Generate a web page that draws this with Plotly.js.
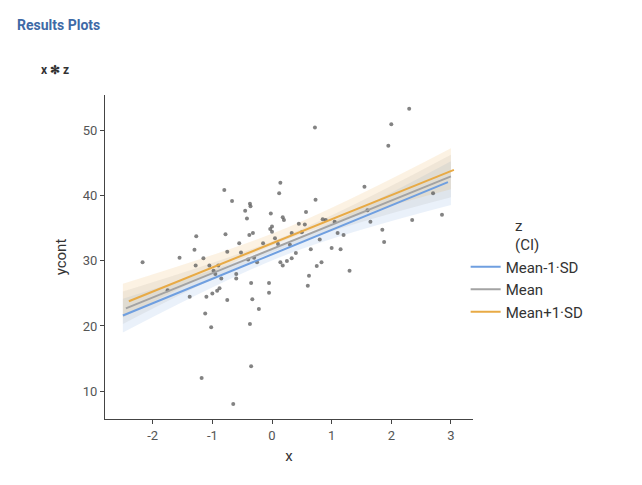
<!DOCTYPE html>
<html><head><script src="https://cdn.plot.ly/plotly-3.0.1.min.js"></script>
<style>body{margin:0}</style></head><body><div id="c" style="width:642px;height:485px"></div>
<script>
const ptsX=[-2.17,-1.55,-1.75,-1.38,-1.3,-1.27,-1.28,-1.18,-1.15,-1.12,-1.1,-1.05,-1.02,-1.0,-0.98,-0.95,-0.92,-0.9,-0.88,-0.85,-0.8,-0.78,-0.75,-0.75,-0.65,-0.67,-0.6,-0.6,-0.55,-0.52,-0.45,-0.42,-0.4,-0.38,-0.37,-0.36,-0.37,-0.35,-0.35,-0.32,-0.3,-0.33,-0.25,-0.22,-0.15,-0.05,-0.05,-0.03,-0.02,0.0,0.0,0.05,0.1,0.12,0.14,0.14,0.18,0.18,0.2,0.25,0.3,0.33,0.33,0.4,0.45,0.5,0.55,0.57,0.6,0.62,0.65,0.72,0.73,0.75,0.8,0.83,0.85,0.9,1.0,1.05,1.1,1.15,1.2,1.3,1.55,1.6,1.65,1.85,1.88,1.95,2.0,2.3,2.35,2.7,2.85];
const ptsY=[29.8,30.5,25.5,24.5,31.7,33.8,29.3,12,30.4,21.9,24.5,29.3,19.8,25.0,28.5,28.0,25.4,29.3,25.8,27.3,40.9,34.1,24.0,31.4,8.0,39.2,28.0,27.3,32.7,31.3,37.7,36.5,30.2,34.0,38.8,38.4,20.3,26.6,13.8,34.3,30.5,24.1,29.8,22.6,32.7,26.6,25.1,34.9,37.3,34.5,35.3,33.5,32.6,40.4,42.0,29.8,36.7,29.3,36.3,30.0,32.5,34.3,30.4,31.2,35.7,34.4,35.6,37.5,26.2,27.7,31.8,50.5,39.4,29.2,33.3,29.8,36.4,36.3,32.0,36.0,34.3,31.8,34.0,28.5,41.4,37.8,36.0,34.8,32.9,47.7,51.0,53.4,36.3,40.4,37.1];
const names=["Mean-1·SD","Mean","Mean+1·SD"];
const colors=["#6f9fe0","#a3a3a3","#e8aa45"];
const fills=["rgba(111,159,224,0.15)","rgba(163,163,163,0.15)","rgba(232,170,69,0.15)"];
const lineX=[[-2.5,2.95],[-2.45,3.0],[-2.4,3.05]];
const lineY=[[21.6,42.1],[22.7,43.0],[23.8,44.0]];
const bandX=[-2.5,0.25,3.0];
const bandLo=[[19.0,31.0,38.6],[20.3,32.2,39.8],[21.3,33.3,41.0]];
const bandHi=[[24.2,32.8,45.3],[25.3,33.9,46.3],[26.5,35.1,47.3]];
const traces=[];
for(let i=0;i<3;i++){
 traces.push({x:bandX,y:bandLo[i],mode:'lines',line:{width:0,shape:'spline'},showlegend:false,hoverinfo:'skip'});
 traces.push({x:bandX,y:bandHi[i],mode:'lines',fill:'tonexty',fillcolor:fills[i],line:{width:0,shape:'spline'},showlegend:false,hoverinfo:'skip'});
}
traces.push({x:ptsX,y:ptsY,mode:'markers',marker:{color:'rgba(90,90,90,0.75)',size:4},showlegend:false});
for(let i=0;i<3;i++) traces.push({x:lineX[i],y:lineY[i],mode:'lines',name:names[i],line:{color:colors[i],width:2}});
Plotly.newPlot('c',traces,{
 width:642,height:485,margin:{l:105,r:169,t:95,b:66},
 font:{family:'Roboto',color:'#333'},
 plot_bgcolor:'white',paper_bgcolor:'white',
 xaxis:{range:[-2.8,3.37],tickvals:[-2,-1,0,1,2,3],ticktext:['-2','-1','0','1','2','3'],showgrid:false,zeroline:false,showline:true,linecolor:'#444',ticks:'outside',ticklen:4,tickcolor:'#444',tickfont:{size:13,color:'#555'},title:{text:'x',font:{size:15},standoff:8}},
 yaxis:{range:[5.7,55.5],tickvals:[10,20,30,40,50],showgrid:false,zeroline:false,showline:true,linecolor:'#444',ticks:'outside',ticklen:4,tickcolor:'#444',tickfont:{size:13,color:'#555'},title:{text:'ycont',font:{size:15},standoff:12}},
 legend:{x:0.98,y:0.46,xanchor:'left',yanchor:'middle',traceorder:'normal',tracegroupgap:0,title:{text:'z<br>(CI)',side:'top center',font:{size:15}},font:{size:15}},
 annotations:[
  {text:'<b>Results Plots</b>',xref:'paper',yref:'paper',x:-90/368,y:1+70/324,xanchor:'left',yanchor:'middle',showarrow:false,font:{size:14,color:'#3e6aa6'}},
  {text:'<b>x ✻ z</b>',xref:'paper',yref:'paper',x:-66/368,y:1+25/324,xanchor:'left',yanchor:'middle',showarrow:false,font:{size:12,color:'#333'}}
 ]
},{displayModeBar:false});
</script></body></html>
